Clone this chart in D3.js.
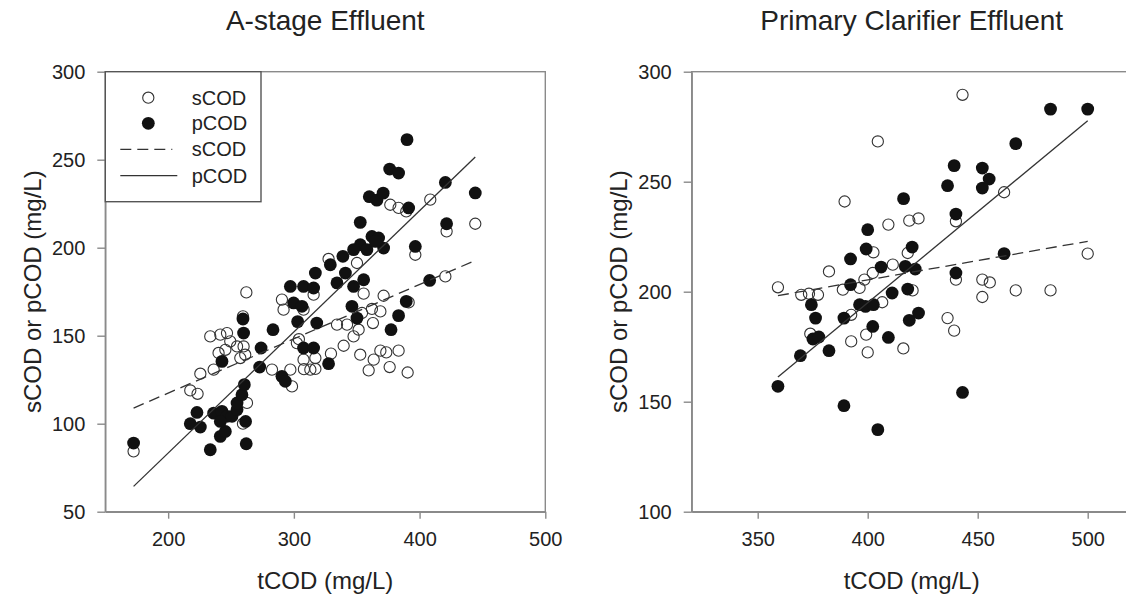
<!DOCTYPE html>
<html>
<head>
<meta charset="utf-8">
<script src="https://cdn.jsdelivr.net/npm/d3@7"></script>
<style>
  body { margin: 0; background: #fff; }
  text { font-family: "Liberation Sans", Arial, sans-serif; fill: #222; }
</style>
</head>
<body>
<div id="chart"></div>
<script>
// A-stage effluent: [tCOD, sCOD] and [tCOD, pCOD]
var aStageSCOD = [
  [172.5, 84.3], [217.6, 118.9], [223.4, 117], [225.6, 128.4], [236.2, 130.7], [233.5, 149.6],
  [241.5, 150.6], [246.8, 151.5], [240.1, 140.2], [245.5, 142], [249.4, 146.8], [254.8, 143.9],
  [260, 143.9], [261.3, 139.2], [257.4, 137.3], [262.2, 174.6], [259.5, 161], [262.7, 111.8],
  [259.5, 100], [282.6, 130.7], [290.5, 170.5], [291.8, 164.8], [297.2, 130.7], [298.5, 121.2],
  [302.4, 145.8], [307.7, 136.4], [307.7, 164.8], [313.1, 130.7], [304, 148], [317.1, 137.3],
  [317.1, 131.1], [308, 131], [315.7, 173.3], [329.5, 139.8], [334.3, 156.3], [342.3, 156.3],
  [339.6, 144.3], [347.5, 149.6], [351.5, 153.4], [352.8, 139.2], [354.2, 162.9], [355.5, 173.9],
  [359.5, 130.3], [362.1, 165.2], [362.9, 157.2], [363.5, 136.4], [368.8, 163.8], [368.8, 141.5],
  [371.4, 172.7], [373.5, 140.5], [376.2, 132.2], [383.3, 141.5], [390.5, 129.1], [391.3, 168.9],
  [327.6, 193.6], [350.2, 191.3], [396.6, 196], [376.7, 224.4], [383.3, 222.6], [389.4, 220.6],
  [408.5, 227.3], [421.5, 209.3], [444.3, 213.6], [420.5, 183.7]
];
var aStagePCOD = [
  [172.5, 89], [217.6, 100], [225.6, 98.1], [222.9, 106.4], [233.5, 85.2], [241.5, 92.8],
  [245.5, 95.6], [236.2, 106], [242.8, 107], [246.8, 104.2], [241.5, 101.3], [250.8, 104.2],
  [254.8, 108], [254.8, 111.8], [258.7, 116.5], [260.6, 122.2], [261.6, 101.3], [262.1, 88.6],
  [242.8, 135.4], [260, 151.5], [259.5, 159.5], [272.8, 132.2], [273.9, 143], [283.4, 153.4],
  [290.5, 126.9], [293.2, 124.1], [297.2, 178], [299.8, 168.6], [303, 158], [307.7, 143],
  [315.7, 143], [307.7, 178], [317.1, 185.6], [318.2, 157.2], [306.4, 166.7], [315.7, 177.1],
  [327.6, 134.1], [329, 190.3], [334.3, 180], [339, 195.1], [341, 185.6], [346.2, 166.7],
  [350.2, 160], [347.5, 178], [355.5, 181.8], [352.8, 201.7], [347.5, 198.9], [358.1, 198.9],
  [362.1, 206.4], [367.4, 205.5], [371.4, 199.8], [364.8, 203.6], [352.8, 214.4], [360, 229],
  [366, 227], [371, 231], [376.2, 244.7], [383.3, 242.4], [390, 261.4], [391.3, 222.6],
  [420.5, 237.1], [444.3, 231.1], [421.5, 213.6], [396.6, 200.7], [408, 181.4], [389.4, 169.5],
  [383.3, 161.4], [377.3, 153.4]
];
var aStageSLine = [[172.5, 108.9], [442.5, 192.2]];
var aStagePLine = [[172.5, 64.4], [444.3, 251.5]];

// Primary clarifier effluent
var primarySCOD = [
  [359.2, 202], [369.8, 198.6], [373.3, 199.1], [377.4, 198.6], [382.4, 209.2], [388.7, 200.9],
  [389.5, 241], [396.3, 201.7], [398.5, 205.5], [402.3, 208.5], [402.6, 217.9], [404.6, 268.3],
  [409.4, 230.5], [411.4, 212.3], [418.2, 217.6], [418.9, 232.3], [423.1, 233.3], [420.4, 200.6],
  [406.6, 195.2], [443.1, 289.5], [440.1, 232], [440.1, 205.5], [452.1, 205.5], [455.5, 204.2],
  [462, 245.2], [467.3, 200.6], [483.1, 200.6], [500, 217.3], [452.1, 197.6], [436.3, 188],
  [439.3, 182.3], [416.2, 174.2], [400, 172.4], [399.3, 180.5], [392.5, 177.4], [392.5, 189.5],
  [373.9, 180.9]
];
var primaryPCOD = [
  [359.2, 157], [369.4, 170.9], [374.4, 194.1], [376.3, 188], [375.1, 178.5], [377.8, 179.4],
  [382.4, 173.2], [389.2, 148.2], [389.2, 188], [392.2, 214.9], [392.2, 203.2], [396.3, 194.1],
  [399, 193.3], [402.6, 194.1], [402.3, 184.2], [400, 228.2], [399.3, 219.4], [404.6, 137.3],
  [406.1, 211.2], [409.4, 179.2], [411.1, 199.4], [416.3, 242.3], [417.1, 211.5], [421.6, 210.3],
  [418.2, 201.2], [418.9, 187], [423.1, 190.3], [420.2, 220.3], [436.3, 248.2], [439.3, 257.3],
  [440.1, 235.3], [440.1, 208.5], [443.1, 154.2], [452.1, 256.2], [455.2, 251.2], [452.1, 247.1],
  [462, 217.3], [467.3, 267.3], [483.1, 283], [500, 283]
];
var primarySLine = [[359.2, 198.2], [500, 222.9]];
var primaryPLine = [[359.2, 161.2], [500, 277.7]];

var legendLabels = ["sCOD", "pCOD", "sCOD", "pCOD"];

// Page size
var svgWidth = 1126;
var svgHeight = 603;
var plotSize = 440;
var plotTop = 71.7;
var axisColor = "#8a8a8a";

var svg = d3.select("#chart")
            .append("svg")
            .attr("width", svgWidth)
            .attr("height", svgHeight);

function drawPanel(opts) {
    var g = svg.append("g")
               .attr("transform", `translate(${opts.left}, ${plotTop})`);

    var x = d3.scaleLinear().domain(opts.xDomain).range([0, plotSize]);
    var y = d3.scaleLinear().domain(opts.yDomain).range([plotSize, 0]);

    // frame (top and right sides)
    g.append("rect")
     .attr("width", plotSize)
     .attr("height", plotSize)
     .attr("fill", "none")
     .attr("stroke", axisColor)
     .attr("stroke-width", 1.4);

    var leftAxis = d3.axisLeft(y).tickValues(opts.yTicks).tickSize(8).tickPadding(12).tickSizeOuter(0);
    var bottomAxis = d3.axisBottom(x).tickValues(opts.xTicks).tickSize(7).tickPadding(13).tickSizeOuter(0);

    var ya = g.append("g").call(leftAxis);
    var xa = g.append("g").attr("transform", `translate(0, ${plotSize})`).call(bottomAxis);

    [ya, xa].forEach(function(a) {
        a.selectAll("path, line").attr("stroke", axisColor).attr("stroke-width", 1.4);
        a.selectAll("text").attr("font-size", "20px").attr("fill", "#222")
         .attr("font-family", "'Liberation Sans', Arial, sans-serif");
    });

    // open circles (sCOD)
    g.append("g").selectAll("circle")
     .data(opts.sPts)
     .enter()
     .append("circle")
     .attr("cx", d => x(d[0]))
     .attr("cy", d => y(d[1]))
     .attr("r", 5.6)
     .attr("fill", "none")
     .attr("stroke", "#333")
     .attr("stroke-width", 1.1);

    // filled circles (pCOD)
    g.append("g").selectAll("circle")
     .data(opts.pPts)
     .enter()
     .append("circle")
     .attr("cx", d => x(d[0]))
     .attr("cy", d => y(d[1]))
     .attr("r", 6.4)
     .attr("fill", "#111");

    var line = d3.line().x(d => x(d[0])).y(d => y(d[1]));

    g.append("path")
     .attr("d", line(opts.sLine))
     .attr("fill", "none")
     .attr("stroke", "#333")
     .attr("stroke-width", 1.3)
     .attr("stroke-dasharray", "11,6");

    g.append("path")
     .attr("d", line(opts.pLine))
     .attr("fill", "none")
     .attr("stroke", "#333")
     .attr("stroke-width", 1.3);

    // titles and axis labels
    svg.append("text")
       .attr("x", opts.left + plotSize / 2)
       .attr("y", 29.5)
       .attr("text-anchor", "middle")
       .attr("font-size", "28px")
       .text(opts.title);

    svg.append("text")
       .attr("x", opts.left + plotSize / 2)
       .attr("y", 589)
       .attr("text-anchor", "middle")
       .attr("font-size", "24px")
       .text("tCOD (mg/L)");

    svg.append("text")
       .attr("transform", `translate(${opts.left - 73}, ${plotTop + plotSize / 2}) rotate(-90)`)
       .attr("text-anchor", "middle")
       .attr("dy", "0.35em")
       .attr("font-size", "24px")
       .text("sCOD or pCOD (mg/L)");

    return g;
}

var leftG = drawPanel({
    left: 105.3,
    xDomain: [150, 500],
    yDomain: [50, 300],
    xTicks: [200, 300, 400, 500],
    yTicks: [50, 100, 150, 200, 250, 300],
    sPts: aStageSCOD,
    pPts: aStagePCOD,
    sLine: aStageSLine,
    pLine: aStagePLine,
    title: "A-stage Effluent"
});

drawPanel({
    left: 691.7,
    xDomain: [320, 520],
    yDomain: [100, 300],
    xTicks: [350, 400, 450, 500],
    yTicks: [100, 150, 200, 250, 300],
    sPts: primarySCOD,
    pPts: primaryPCOD,
    sLine: primarySLine,
    pLine: primaryPLine,
    title: "Primary Clarifier Effluent"
});

// Legend box in the left panel
var legend = leftG.append("g");
legend.append("rect")
      .attr("width", 155.7)
      .attr("height", 130)
      .attr("fill", "#fff")
      .attr("stroke", "#555")
      .attr("stroke-width", 1.4);

var rowY = [26, 51.6, 77.6, 104];
legend.append("circle").attr("cx", 43).attr("cy", rowY[0]).attr("r", 5.6)
      .attr("fill", "none").attr("stroke", "#333").attr("stroke-width", 1.1);
legend.append("circle").attr("cx", 43).attr("cy", rowY[1]).attr("r", 6.4).attr("fill", "#111");
legend.append("line").attr("x1", 15).attr("x2", 67).attr("y1", rowY[2]).attr("y2", rowY[2])
      .attr("stroke", "#333").attr("stroke-width", 1.3).attr("stroke-dasharray", "11,6");
legend.append("line").attr("x1", 15).attr("x2", 72).attr("y1", rowY[3]).attr("y2", rowY[3])
      .attr("stroke", "#333").attr("stroke-width", 1.3);

legend.selectAll("text.lab")
      .data(legendLabels)
      .enter()
      .append("text")
      .attr("class", "lab")
      .attr("x", 86.4)
      .attr("y", (d, i) => rowY[i])
      .attr("dy", "0.35em")
      .attr("font-size", "20px")
      .text(d => d);
</script>
</body>
</html>
